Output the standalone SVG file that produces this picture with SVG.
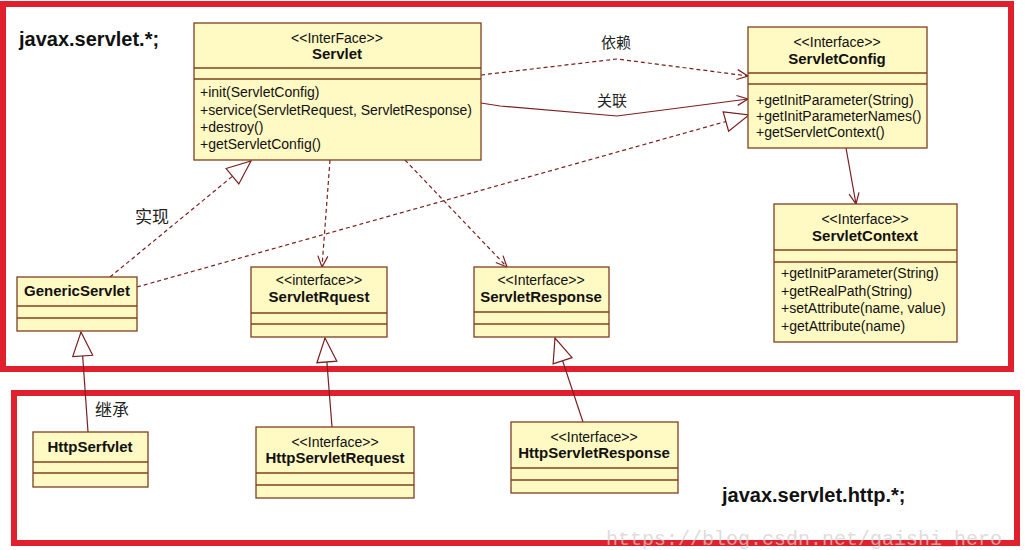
<svg xmlns="http://www.w3.org/2000/svg" width="1026" height="550" viewBox="0 0 1026 550">
<style>
.frame{fill:none;stroke:#e0202c;stroke-width:6}
.box{fill:#fff9c4;stroke:#7f4020;stroke-width:1.3}
.div{stroke:#7f4020;stroke-width:1.3}
.t{font-family:"Liberation Sans",Arial,sans-serif;font-size:14px;fill:#111}
.st{text-anchor:middle;font-size:14px}
.nm{font-weight:bold;font-size:15px;text-anchor:middle}
.pkg{font-family:"Liberation Sans",Arial,sans-serif;font-size:20px;font-weight:bold;fill:#111}
.lbl{font-family:"Noto Sans CJK SC","Noto Sans",sans-serif;font-size:15px;fill:#222}
.c{fill:none;stroke:#7a1f1f;stroke-width:1.2}
.d{stroke-dasharray:4,3}
.wm{font-family:"Liberation Mono",monospace;font-size:20px;fill:#cfcfcf;opacity:0.7}
</style>
<defs>
<marker id="open" markerUnits="userSpaceOnUse" viewBox="-12 -6 14 12" refX="0" refY="0" markerWidth="14" markerHeight="12" orient="auto">
<path d="M-11,-5 L0,0 L-11,5" fill="none" stroke="#7a1f1f" stroke-width="1.2"/>
</marker>
<marker id="tri" markerUnits="userSpaceOnUse" viewBox="-26 -12 28 24" refX="0" refY="0" markerWidth="28" markerHeight="24" orient="auto">
<path d="M-24,-10 L0,0 L-24,10 Z" fill="#ffffff" stroke="#7a1f1f" stroke-width="1.2"/>
</marker>
</defs>

<rect class="frame" x="3" y="4" width="1008" height="365"/>
<rect class="frame" x="14" y="393" width="1003" height="150"/>
<text class="pkg" x="19" y="46">javax.servlet.*;</text>
<text class="pkg" x="722" y="502">javax.servlet.http.*;</text>

<g id="connectors">
<polyline class="c d" points="481,75 617,59 748,76" marker-end="url(#open)"/>
<polyline class="c" points="481,103 500,106 617,116 748,99" marker-end="url(#open)"/>
<line class="c d" x1="137" y1="287" x2="749" y2="115" marker-end="url(#tri)"/>
<line class="c d" x1="110" y1="277" x2="251" y2="161" marker-end="url(#tri)"/>
<line class="c d" x1="330" y1="160" x2="322" y2="267" marker-end="url(#open)"/>
<line class="c d" x1="405" y1="160" x2="507" y2="267" marker-end="url(#open)"/>
<line class="c" x1="846" y1="148" x2="856" y2="204" marker-end="url(#open)"/>
<line class="c" x1="88" y1="432" x2="81" y2="332" marker-end="url(#tri)"/>
<line class="c" x1="332" y1="427" x2="325" y2="338" marker-end="url(#tri)"/>
<line class="c" x1="583" y1="422" x2="555" y2="338" marker-end="url(#tri)"/>
<text class="lbl" x="601" y="48">依赖</text>
<text class="lbl" x="597" y="106">关联</text>
<text class="lbl" x="135" y="223" style="font-size:17px">实现</text>
<text class="lbl" x="95" y="416" style="font-size:17px">继承</text>
</g>

<g id="Servlet">
<rect class="box" x="194" y="23" width="287" height="137"/>
<line class="div" x1="194" y1="68" x2="481" y2="68"/>
<line class="div" x1="194" y1="79" x2="481" y2="79"/>
<text class="t st" x="337" y="43">&lt;&lt;InterFace&gt;&gt;</text>
<text class="t nm" x="337" y="59">Servlet</text>
<text class="t" x="200" y="97">+init(ServletConfig)</text>
<text class="t" x="200" y="115">+service(ServletRequest, ServletResponse)</text>
<text class="t" x="200" y="132">+destroy()</text>
<text class="t" x="200" y="149">+getServletConfig()</text>
</g>

<g id="ServletConfig">
<rect class="box" x="748" y="27" width="179" height="121"/>
<line class="div" x1="748" y1="73" x2="927" y2="73"/>
<line class="div" x1="748" y1="84" x2="927" y2="84"/>
<text class="t st" x="837" y="47">&lt;&lt;Interface&gt;&gt;</text>
<text class="t nm" x="837" y="64">ServletConfig</text>
<text class="t" x="756" y="105">+getInitParameter(String)</text>
<text class="t" x="756" y="121">+getInitParameterNames()</text>
<text class="t" x="756" y="137">+getServletContext()</text>
</g>

<g id="ServletContext">
<rect class="box" x="774" y="204" width="183" height="138"/>
<line class="div" x1="774" y1="250" x2="957" y2="250"/>
<line class="div" x1="774" y1="262" x2="957" y2="262"/>
<text class="t st" x="865" y="224">&lt;&lt;Interface&gt;&gt;</text>
<text class="t nm" x="865" y="241">ServletContext</text>
<text class="t" x="781" y="278">+getInitParameter(String)</text>
<text class="t" x="781" y="296">+getRealPath(String)</text>
<text class="t" x="781" y="313">+setAttribute(name, value)</text>
<text class="t" x="781" y="331">+getAttribute(name)</text>
</g>

<g id="GenericServlet">
<rect class="box" x="17" y="277" width="120" height="54"/>
<line class="div" x1="17" y1="306" x2="137" y2="306"/>
<line class="div" x1="17" y1="318" x2="137" y2="318"/>
<text class="t nm" x="77" y="296">GenericServlet</text>
</g>

<g id="ServletRquest">
<rect class="box" x="251" y="267" width="136" height="70"/>
<line class="div" x1="251" y1="313" x2="387" y2="313"/>
<line class="div" x1="251" y1="324" x2="387" y2="324"/>
<text class="t st" x="319" y="285">&lt;&lt;interface&gt;&gt;</text>
<text class="t nm" x="319" y="302">ServletRquest</text>
</g>

<g id="ServletResponse">
<rect class="box" x="474" y="267" width="135" height="70"/>
<line class="div" x1="474" y1="312" x2="609" y2="312"/>
<line class="div" x1="474" y1="324" x2="609" y2="324"/>
<text class="t st" x="541" y="285">&lt;&lt;Interface&gt;&gt;</text>
<text class="t nm" x="541" y="302">ServletResponse</text>
</g>

<g id="HttpSerfvlet">
<rect class="box" x="33" y="432" width="115" height="55"/>
<line class="div" x1="33" y1="462" x2="148" y2="462"/>
<line class="div" x1="33" y1="473" x2="148" y2="473"/>
<text class="t nm" x="90" y="452">HttpSerfvlet</text>
</g>

<g id="HttpServletRequest">
<rect class="box" x="256" y="427" width="158" height="71"/>
<line class="div" x1="256" y1="473" x2="414" y2="473"/>
<line class="div" x1="256" y1="485" x2="414" y2="485"/>
<text class="t st" x="335" y="447">&lt;&lt;Interface&gt;&gt;</text>
<text class="t nm" x="335" y="463">HttpServletRequest</text>
</g>

<g id="HttpServletResponse">
<rect class="box" x="511" y="422" width="167" height="71"/>
<line class="div" x1="511" y1="468" x2="678" y2="468"/>
<line class="div" x1="511" y1="480" x2="678" y2="480"/>
<text class="t st" x="594" y="442">&lt;&lt;Interface&gt;&gt;</text>
<text class="t nm" x="594" y="458">HttpServletResponse</text>
</g>

<text class="wm" x="606" y="545">https://blog.csdn.net/gaishi_hero</text>
</svg>
